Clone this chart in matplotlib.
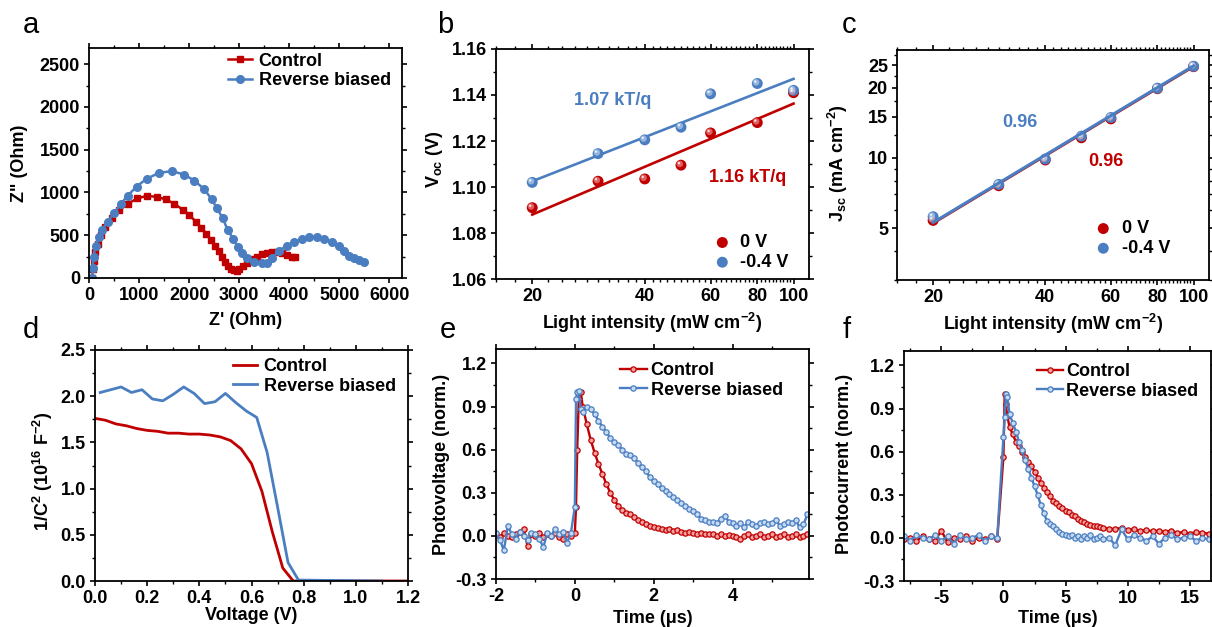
import matplotlib
matplotlib.use('Agg')
import matplotlib.pyplot as plt
from matplotlib.ticker import MultipleLocator, NullFormatter
from matplotlib.transforms import offset_copy

plt.rcParams['font.family'] = ['Liberation Sans', 'DejaVu Sans']
plt.rcParams['font.weight'] = 'bold'
plt.rcParams['axes.labelweight'] = 'bold'
plt.rcParams['font.size'] = 13
plt.rcParams['axes.linewidth'] = 1.3
plt.rcParams['axes.unicode_minus'] = False

RED = '#C00000'
BLUE = '#4A7EC1'
RED_LIGHT = '#F4A0A0'
BLUE_LIGHT = '#C6DAF2'

# ---- a: Nyquist plot
a_ctrl_x = [60, 70, 90, 120, 170, 230, 320, 450, 600, 780, 960, 1150, 1350, 1530,
            1700, 1870, 2000, 2130, 2240, 2340, 2430, 2520, 2590, 2650, 2710, 2770,
            2830, 2900, 2950, 3000, 3080, 3160, 3250, 3350, 3450, 3550, 3650, 3750,
            3850, 3950, 4050, 4120]
a_ctrl_y = [0, 100, 200, 300, 400, 500, 600, 700, 790, 870, 930, 960, 950, 920,
            870, 800, 740, 660, 590, 520, 450, 380, 310, 250, 190, 140,
            110, 90, 80, 100, 140, 180, 220, 250, 275, 290, 300, 300,
            290, 270, 250, 240]
a_rev_x = [60, 70, 90, 130, 190, 260, 370, 500, 640, 770, 950, 1150, 1400, 1650,
           1900, 2100, 2300, 2450, 2550, 2670, 2770, 2880, 2970, 3050, 3150, 3300,
           3450, 3550, 3650, 3800, 3950, 4100, 4250, 4400, 4550, 4700, 4850, 5000,
           5100, 5200, 5300, 5400, 5500]
a_rev_y = [0, 120, 250, 380, 480, 560, 660, 760, 870, 960, 1070, 1160, 1230, 1250,
           1210, 1140, 1040, 920, 820, 700, 560, 460, 360, 290, 230, 190,
           180, 170, 230, 320, 380, 420, 460, 480, 480, 460, 420, 370,
           320, 260, 230, 210, 190]

# ---- b, c: light intensity dependence
intensity = [20, 30, 40, 50, 60, 80, 100]
voc_0v = [1.091, 1.1025, 1.1035, 1.1095, 1.1235, 1.128, 1.141]
voc_rev = [1.102, 1.1145, 1.1205, 1.126, 1.1405, 1.145, 1.142]
voc_n = [1.16, 1.07]            # ideality factor (kT/q)
voc_fit_start = [1.088, 1.1025]  # fitted Voc at 20 mW cm-2
kT_q = 0.02585
jsc_0v = [5.4, 7.6, 9.8, 12.2, 14.7, 19.8, 24.6]
jsc_rev = [5.6, 7.7, 9.9, 12.4, 14.9, 19.9, 24.7]
jsc_slope = [0.96, 0.96]
jsc_fit_end = [24.5, 24.8]      # fitted Jsc at 100 mW cm-2

# ---- d: Mott-Schottky
d_ctrl_v = [0.00, 0.04, 0.08, 0.12, 0.16, 0.20, 0.24, 0.28, 0.32, 0.36, 0.40,
            0.44, 0.48, 0.52, 0.56, 0.60, 0.64, 0.68, 0.72, 0.76, 1.20]
d_ctrl_c = [1.76, 1.74, 1.70, 1.68, 1.65, 1.63, 1.62, 1.60, 1.60, 1.59, 1.59,
            1.58, 1.56, 1.52, 1.43, 1.27, 0.97, 0.53, 0.14, 0.0, 0.0]
d_rev_v = [0.02, 0.06, 0.10, 0.14, 0.18, 0.22, 0.26, 0.30, 0.34, 0.38, 0.42,
           0.46, 0.50, 0.54, 0.58, 0.62, 0.66, 0.70, 0.74, 0.78, 1.10]
d_rev_c = [2.04, 2.07, 2.10, 2.04, 2.07, 1.97, 1.95, 2.02, 2.10, 2.03, 1.92,
           1.94, 2.03, 1.93, 1.84, 1.77, 1.39, 0.80, 0.20, 0.01, 0.0]

# ---- e: transient photovoltage
e_time = [-2.0, -1.9, -1.8, -1.7, -1.6, -1.5, -1.4, -1.3, -1.2, -1.1,
          -1.0, -0.9, -0.8, -0.7, -0.6, -0.5, -0.4, -0.3, -0.2, -0.1,
          0.0, 0.03, 0.06, 0.1, 0.15,
          0.2, 0.3, 0.4, 0.5, 0.6, 0.7, 0.8, 0.9, 1.0,
          1.1, 1.2, 1.3, 1.4, 1.5, 1.6, 1.7, 1.8, 1.9, 2.0,
          2.1, 2.2, 2.3, 2.4, 2.5, 2.6, 2.7, 2.8, 2.9, 3.0,
          3.1, 3.2, 3.3, 3.4, 3.5, 3.6, 3.7, 3.8, 3.9, 4.0,
          4.1, 4.2, 4.3, 4.4, 4.5, 4.6, 4.7, 4.8, 4.9, 5.0,
          5.1, 5.2, 5.3, 5.4, 5.5, 5.6, 5.7, 5.8, 5.9]
e_ctrl = [0.01, -0.01, 0.02, 0.0, -0.01, 0.01, 0.03, 0.05, -0.07, 0.01,
          0.0, 0.02, -0.01, 0.01, 0.0, 0.02, -0.01, -0.02, 0.01, 0.0,
          0.02, 0.2, 0.6, 0.95, 1.0,
          0.90, 0.78, 0.67, 0.58, 0.50, 0.43, 0.36, 0.30, 0.25,
          0.21, 0.18, 0.16, 0.15, 0.13, 0.11, 0.10, 0.08, 0.07, 0.06,
          0.055, 0.05, 0.04, 0.045, 0.035, 0.04, 0.03, 0.02, 0.025, 0.02,
          0.01, 0.02, 0.01, 0.015, 0.01, 0.0, 0.01, 0.0, 0.005, 0.0,
          -0.01, -0.02, 0.0, 0.01, -0.01, 0.0, 0.01, -0.01, 0.0, 0.01,
          -0.01, 0.0, 0.01, -0.005, 0.0, 0.01, -0.01, 0.0, 0.01]
e_rev = [0.02, -0.03, -0.10, 0.07, 0.01, -0.02, 0.03, 0.0, -0.03, 0.02,
         0.01, -0.02, -0.08, 0.02, 0.0, 0.05, 0.01, 0.03, -0.05, 0.02,
         0.2, 0.95, 1.0, 1.01, 0.88,
         0.86, 0.90, 0.88, 0.85, 0.80, 0.76, 0.72, 0.68, 0.65,
         0.63, 0.60, 0.57, 0.56, 0.54, 0.51, 0.48, 0.45, 0.41, 0.38,
         0.36, 0.33, 0.31, 0.29, 0.27, 0.25, 0.23, 0.21, 0.19, 0.17,
         0.15, 0.12, 0.11, 0.10, 0.10, 0.09, 0.12, 0.14, 0.10, 0.09,
         0.07, 0.09, 0.06, 0.10, 0.08, 0.07, 0.09, 0.10, 0.08, 0.09,
         0.11, 0.07, 0.08, 0.10, 0.09, 0.11, 0.06, 0.08, 0.15]

# ---- f: transient photocurrent
f_time = [-8.0, -7.5, -7.0, -6.5, -6.0, -5.5, -5.0, -4.5, -4.0, -3.5,
          -3.0, -2.5, -2.0, -1.5, -1.0, -0.5,
          0.0, 0.1, 0.2, 0.3,
          0.5, 0.75, 1.0, 1.25, 1.5, 1.75, 2.0, 2.25, 2.5, 2.75,
          3.0, 3.25, 3.5, 3.75, 4.0, 4.25, 4.5, 4.75, 5.0, 5.25,
          5.5, 5.75, 6.0, 6.25, 6.5, 6.75, 7.0, 7.25, 7.5, 7.75, 8.0,
          8.5, 9.0, 9.5, 10.0, 10.5, 11.0, 11.5, 12.0, 12.5, 13.0,
          13.5, 14.0, 14.5, 15.0, 15.5, 16.0, 16.5]
f_ctrl = [-0.01, 0.0, -0.02, 0.01, -0.01, -0.02, 0.05, -0.03, 0.0, -0.01,
          0.01, -0.02, 0.0, -0.01, 0.01, -0.01,
          0.56, 1.0, 0.93, 0.85,
          0.77, 0.72, 0.67, 0.64, 0.60, 0.56, 0.53, 0.50, 0.46, 0.42,
          0.38, 0.35, 0.32, 0.29, 0.26, 0.24, 0.22, 0.21, 0.19, 0.18,
          0.16, 0.15, 0.13, 0.12, 0.11, 0.10, 0.09, 0.085, 0.08, 0.075, 0.07,
          0.065, 0.06, 0.07, 0.055, 0.06, 0.05, 0.055, 0.045, 0.05, 0.04,
          0.05, 0.035, 0.04, 0.03, 0.04, 0.035, 0.03]
f_rev = [0.01, -0.02, 0.02, 0.0, -0.01, 0.02, -0.02, 0.01, -0.04, 0.02,
         -0.01, 0.0, 0.02, -0.02, 0.01, 0.0,
         0.70, 0.84, 1.0, 0.98,
         0.86, 0.80, 0.74, 0.67, 0.61, 0.54, 0.48, 0.42, 0.36, 0.30,
         0.23, 0.17, 0.12, 0.10, 0.08, 0.06, 0.04, 0.03, 0.02, 0.01,
         0.02, 0.0, 0.01, -0.01, 0.01, 0.0, 0.02, -0.01, 0.0, 0.01, -0.01,
         0.0, -0.05, 0.06, -0.01, 0.02, 0.0, -0.02, 0.01, -0.04, 0.0,
         0.02, -0.01, 0.0, 0.01, -0.02, 0.0, -0.01]

W, H = 1212, 627
fig = plt.figure(figsize=(W / 100, H / 100), dpi=100)


def add_axes(left, top, right, bottom):
    return fig.add_axes([left / W, 1 - bottom / H, (right - left) / W, (bottom - top) / H])


def style(ax):
    ax.tick_params(which='both', direction='out', top=True, right=True,
                   labeltop=False, labelright=False, labelsize=13)
    ax.tick_params(which='major', length=3.5, width=1.2, pad=3)
    ax.tick_params(which='minor', length=2, width=1)


def balls(ax, x, y, color, light, label):
    h = ax.scatter(x, y, s=62, color=color, edgecolors='none', zorder=3, label=label)
    t1 = offset_copy(ax.transData, fig=fig, x=-1.2, y=1.2, units='dots')
    ax.scatter(x, y, s=22, color=light, alpha=0.6, edgecolors='none', zorder=4, transform=t1)
    t2 = offset_copy(ax.transData, fig=fig, x=-2, y=2, units='dots')
    ax.scatter(x, y, s=3, color='white', alpha=0.8, edgecolors='none', zorder=5, transform=t2)
    return h


def log_intensity_axis(ax):
    ax.set_xscale('log')
    ax.set_xlim(16, 110)
    ax.set_xticks([20, 40, 60, 80, 100], labels=['20', '40', '60', '80', '100'])
    ax.set_xticks([16, 18] + list(range(22, 100, 2)), minor=True)
    ax.xaxis.set_minor_formatter(NullFormatter())
    ax.set_xlabel('Light intensity (mW cm$^{\\mathregular{-2}}$)')
    ax.xaxis.set_label_coords(0.5, -0.14)
    ax.xaxis.label.set_va('top')


# a
ax = add_axes(89, 48, 402, 278)
ax.plot(a_ctrl_x, a_ctrl_y, '-s', color=RED, lw=1.8, ms=5, label='Control')
ax.plot(a_rev_x, a_rev_y, '-o', color=BLUE, lw=1.8, ms=5.5, label='Reverse biased')
ax.set_xlim(0, 6250)
ax.set_ylim(0, 2690)
ax.xaxis.set_major_locator(MultipleLocator(1000))
ax.xaxis.set_minor_locator(MultipleLocator(500))
ax.yaxis.set_major_locator(MultipleLocator(500))
ax.yaxis.set_minor_locator(MultipleLocator(250))
ax.set_xlabel("Z' (Ohm)")
ax.set_ylabel('Z" (Ohm)')
ax.xaxis.set_label_coords(0.5, -0.148)
ax.xaxis.label.set_va('top')
ax.yaxis.set_label_coords(-0.195, 0.5)
style(ax)
ax.legend(loc='upper left', bbox_to_anchor=(0.444, 0.98), frameon=False, borderpad=0,
          borderaxespad=0, handlelength=1.35, handletextpad=0.35, labelspacing=0.15)

# b
ax = add_axes(496, 49, 809, 279)
h1 = balls(ax, intensity, voc_0v, RED, RED_LIGHT, '0 V')
h2 = balls(ax, intensity, voc_rev, BLUE, BLUE_LIGHT, '-0.4 V')
for n, v0, c in zip(voc_n, voc_fit_start, [RED, BLUE]):
    xs = [intensity[0], intensity[-1]]
    ax.plot(xs, [v0, v0 + n * kT_q * 1.6094], color=c, lw=1.9, zorder=2)
log_intensity_axis(ax)
ax.set_ylim(1.06, 1.16)
ax.yaxis.set_major_locator(MultipleLocator(0.02))
ax.yaxis.set_minor_locator(MultipleLocator(0.01))
ax.yaxis.set_major_formatter(lambda v, p: f'{v:.2f}')
ax.set_ylabel('V$_{\\mathregular{oc}}$ (V)')
ax.yaxis.set_label_coords(-0.163, 0.52)
ax.text(0.374, 0.778, f'{voc_n[1]:.2f} kT/q', color=BLUE, transform=ax.transAxes,
        ha='center', va='center', fontsize=13)
ax.text(0.805, 0.443, f'{voc_n[0]:.2f} kT/q', color=RED, transform=ax.transAxes,
        ha='center', va='center', fontsize=13)
style(ax)
ax.legend(handles=[h1, h2], loc='lower left', bbox_to_anchor=(0.70, 0.035), frameon=False,
          borderpad=0, borderaxespad=0, handlelength=0.8, handletextpad=0.6,
          labelspacing=0.15, scatterpoints=1)

# c
ax = add_axes(897, 50, 1209, 280)
for s, jend, c in zip(jsc_slope, jsc_fit_end, [RED, BLUE]):
    xs = [intensity[0], intensity[-1]]
    ys = [jend * (x / 100) ** s for x in xs]
    ax.plot(xs, ys, color=c, lw=1.3 if c == RED else 2.2, zorder=2 if c == RED else 6)
h1 = balls(ax, intensity, jsc_0v, RED, RED_LIGHT, '0 V')
h2 = balls(ax, intensity, jsc_rev, BLUE, BLUE_LIGHT, '-0.4 V')
log_intensity_axis(ax)
ax.set_yscale('log')
ax.set_ylim(3, 29)
ax.set_yticks([5, 10, 15, 20, 25], labels=['5', '10', '15', '20', '25'])
ax.set_yticks([3, 4, 6, 7, 8, 9, 12.5, 17.5, 22.5, 27.5], minor=True)
ax.yaxis.set_minor_formatter(NullFormatter())
ax.set_ylabel('J$_{\\mathregular{sc}}$ (mA cm$^{\\mathregular{-2}}$)')
ax.yaxis.set_label_coords(-0.151, 0.51)
ax.text(0.394, 0.683, f'{jsc_slope[1]:.2f}', color=BLUE, transform=ax.transAxes,
        ha='center', va='center', fontsize=13)
ax.text(0.67, 0.517, f'{jsc_slope[0]:.2f}', color=RED, transform=ax.transAxes,
        ha='center', va='center', fontsize=13)
style(ax)
ax.legend(handles=[h1, h2], loc='lower left', bbox_to_anchor=(0.638, 0.10), frameon=False,
          borderpad=0, borderaxespad=0, handlelength=0.8, handletextpad=0.65,
          labelspacing=0.15, scatterpoints=1)

# d
ax = add_axes(95, 350, 408, 581)
ax.plot(d_ctrl_v, d_ctrl_c, color=RED, lw=2, label='Control')
ax.plot(d_rev_v, d_rev_c, color=BLUE, lw=2, label='Reverse biased')
ax.set_xlim(0, 1.2)
ax.set_ylim(0, 2.5)
ax.xaxis.set_major_locator(MultipleLocator(0.2))
ax.xaxis.set_minor_locator(MultipleLocator(0.1))
ax.yaxis.set_major_locator(MultipleLocator(0.5))
ax.yaxis.set_minor_locator(MultipleLocator(0.25))
ax.xaxis.set_major_formatter(lambda v, p: f'{v:.1f}')
ax.yaxis.set_major_formatter(lambda v, p: f'{v:.1f}')
ax.set_xlabel('Voltage (V)')
ax.set_ylabel('1/C$^{\\mathregular{2}}$ (10$^{\\mathregular{16}}$ F$^{\\mathregular{-2}}$)')
ax.xaxis.set_label_coords(0.5, -0.113)
ax.xaxis.label.set_va('top')
ax.yaxis.set_label_coords(-0.128, 0.476)
style(ax)
ax.legend(loc='upper left', bbox_to_anchor=(0.441, 0.965), frameon=False, borderpad=0,
          borderaxespad=0, handlelength=1.35, handletextpad=0.35, labelspacing=0.15)


def transient(ax, t, ctrl, rev):
    ax.plot(t, ctrl, '-o', color=RED, lw=1.7, ms=3.8, mfc=RED_LIGHT, mec=RED, mew=0.9,
            label='Control')
    ax.plot(t, rev, '-o', color=BLUE, lw=1.7, ms=3.8, mfc=BLUE_LIGHT, mec=BLUE, mew=0.9,
            label='Reverse biased')
    ax.set_ylim(-0.3, 1.3)
    ax.yaxis.set_major_locator(MultipleLocator(0.3))
    ax.yaxis.set_minor_locator(MultipleLocator(0.15))
    ax.yaxis.set_major_formatter(lambda v, p: f'{v:.1f}')
    ax.set_xlabel('Time (μs)')
    ax.xaxis.label.set_va('top')
    style(ax)


# e
ax = add_axes(496, 349, 809, 579)
transient(ax, e_time, e_ctrl, e_rev)
ax.set_xlim(-2, 5.94)
ax.xaxis.set_major_locator(MultipleLocator(2))
ax.xaxis.set_minor_locator(MultipleLocator(1))
ax.set_ylabel('Photovoltage (norm.)')
ax.xaxis.set_label_coords(0.5, -0.135)
ax.yaxis.set_label_coords(-0.147, 0.5)
ax.legend(loc='upper left', bbox_to_anchor=(0.396, 0.943), frameon=False, borderpad=0,
          borderaxespad=0, handlelength=1.5, handletextpad=0.2, labelspacing=0.15)

# f
ax = add_axes(904, 351, 1211, 581)
transient(ax, f_time, f_ctrl, f_rev)
ax.set_xlim(-8, 16.7)
ax.xaxis.set_major_locator(MultipleLocator(5))
ax.xaxis.set_minor_locator(MultipleLocator(2.5))
ax.set_ylabel('Photocurrent (norm.)')
ax.xaxis.set_label_coords(0.5, -0.126)
ax.yaxis.set_label_coords(-0.166, 0.51)
ax.legend(loc='upper left', bbox_to_anchor=(0.432, 0.948), frameon=False, borderpad=0,
          borderaxespad=0, handlelength=1.45, handletextpad=0.2, labelspacing=0.15)

# panel letters
for letter, x, y in [('a', 23, 33), ('b', 437, 33), ('c', 842, 33),
                     ('d', 23, 338), ('e', 440, 338), ('f', 843, 338)]:
    fig.text(x / W, 1 - y / H, letter, fontsize=21, fontweight='normal',
             ha='left', va='baseline')

fig.savefig('out.png', dpi=100)
